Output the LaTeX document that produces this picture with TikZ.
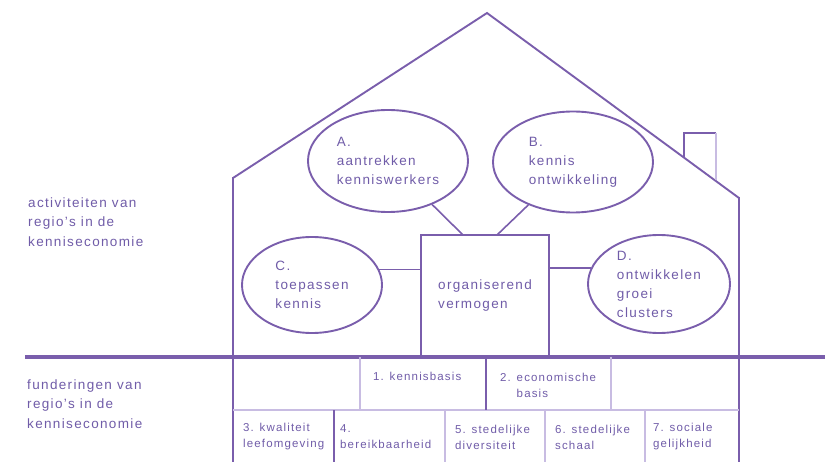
\documentclass[tikz,border=0pt]{standalone}
\usepackage{fontspec}
\setmainfont{Liberation Sans}[LetterSpace=10]
\usetikzlibrary{shapes.geometric}
\definecolor{hp}{RGB}{122,94,172}
\definecolor{hl}{RGB}{200,188,226}
\definecolor{ht}{RGB}{112,92,168}
\begin{document}
\begin{tikzpicture}[x=1pt,y=-1pt,
 wall/.style={draw=hp,line width=2.6pt},
 roof/.style={draw=hp,line width=1.9pt,line join=miter},
 bubble/.style={ellipse,draw=hp,line width=1.9pt,inner sep=0pt,align=left,text=ht,font=\fontsize{13.5}{19}\selectfont},
 link/.style={draw=hp,line width=1.6pt},
 cellline/.style={draw=hl,line width=1.4pt},
 darkcell/.style={draw=hp,line width=1.6pt},
 big/.style={text=ht,align=left,font=\fontsize{13.5}{19.5}\selectfont,inner sep=0pt,anchor=west},
 small/.style={text=ht,align=left,font=\fontsize{11.5}{16}\selectfont,inner sep=0pt,anchor=west}]
\useasboundingbox (0,0) rectangle (825,462);

% house
\draw[roof] (233,178) -- (487,13) -- (739,198);
\draw[wall] (233,177) -- (233,462);
\draw[wall] (739,197) -- (739,462);
\draw[draw=hp,line width=1.5pt] (684,157) -- (684,133) -- (716,133);
\draw[draw=hl,line width=1.5pt] (716,133) -- (716,180);
\draw[draw=hp,line width=4pt] (25,357) -- (825,357);

% bubbles
\node[bubble,minimum width=160pt,minimum height=102pt] (A) at (388,161) {A.\\aantrekken\\kenniswerkers};
\node[bubble,minimum width=160pt,minimum height=101pt] (B) at (573,162) {B.\\kennis\\ontwikkeling};
\node[bubble,minimum width=140pt,minimum height=96pt] (C) at (312,285) {C.\\toepassen\\kennis};
\node[bubble,minimum width=142pt,minimum height=98pt] (D) at (659,284) {D.\\ontwikkelen\\groei\\clusters};
\node[draw=hp,line width=2pt,minimum width=128pt,minimum height=122pt,inner sep=0pt,text=ht,align=left,font=\fontsize{13.5}{19}\selectfont] (box) at (485,296) {organiserend\\vermogen};

\coordinate (ca) at (463,235);
\coordinate (cb) at (497,235);
\draw[link] (ca) -- (A);
\draw[link] (cb) -- (B);
\draw[link] (C.13.6) -- (C.13.6 -| box.west);
\draw[link] (D.167.5) -- (D.167.5 -| box.east);

% foundation cells
\draw[cellline] (233,410) -- (739,410);
\draw[cellline] (360,357) -- (360,410);
\draw[darkcell] (486,357) -- (486,410);
\draw[cellline] (611,357) -- (611,410);
\draw[darkcell] (334,410) -- (334,462);
\draw[cellline] (445,410) -- (445,462);
\draw[cellline] (545,410) -- (545,462);
\draw[cellline] (645,410) -- (645,462);

\node[small] (f1) at (373,376) {1. kennisbasis};
\node[small] (f2) at (500,385) {2. economische\\\phantom{2. }basis};
\node[small] (f3) at (243,437) {3. kwaliteit\\leefomgeving};
\node[small] (f4) at (340,437) {4.\\bereikbaarheid};
\node[small] (f5) at (455,437) {5. stedelijke\\diversiteit};
\node[small] (f6) at (555,437) {6. stedelijke\\schaal};
\node[small] (f7) at (653,437) {7. sociale\\gelijkheid};

% side labels
\node[big] (la) at (28,222) {activiteiten van\\regio's in de\\kenniseconomie};
\node[big] (lf) at (27,404) {funderingen van\\regio's in de\\kenniseconomie};
\end{tikzpicture}
\end{document}
